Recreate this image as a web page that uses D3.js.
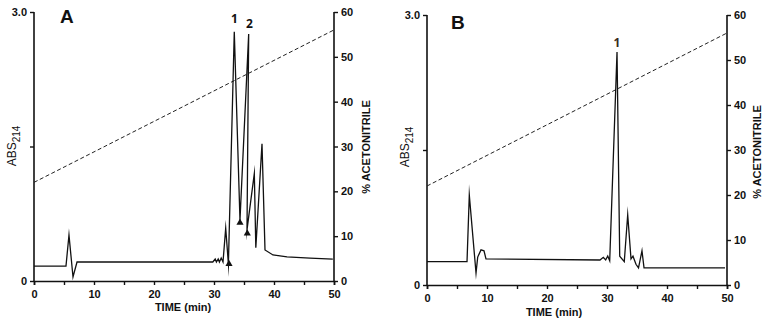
<!DOCTYPE html>
<html>
<head>
<meta charset="utf-8">
<script src="https://cdn.jsdelivr.net/npm/d3@7"></script>
<style>
  html, body { margin: 0; padding: 0; background: #fff; }
  svg { display: block; font-family: "Liberation Sans", Arial, sans-serif; }
</style>
</head>
<body>
<svg id="chart" width="764" height="323"></svg>
<script>
// ---------- DATA ----------
const timeTicks = [0, 10, 20, 30, 40, 50];
const timeMinorTicks = [0, 5, 10, 15, 20, 25, 30, 35, 40, 45, 50];
const absTicks = [0, 1.5, 3.0];
const absTickLabels = ["0", "", "3.0"];
const pctTicks = [0, 10, 20, 30, 40, 50, 60];

// Gradient (% acetonitrile) – same in both runs
const gradientTime = [0, 50];
const gradientPct = [22, 56];

// Panel A trace
const timeA = [0, 5.33, 5.83, 6.5, 7.17, 29.8, 30.2, 30.4, 30.7, 30.9, 31.2, 31.5, 31.95, 32.4,
  33.38, 34.33, 35.78, 35.5, 36.72, 36.97, 38.0, 38.5, 39.83, 42.17, 46, 49.8];
const absA = [0.167, 0.167, 0.513, 0.045, 0.212, 0.212, 0.245, 0.212, 0.245, 0.212, 0.256, 0.212, 0.59, 0.19,
  2.78, 0.68, 2.755, 0.57, 1.20, 0.37, 1.53, 0.346, 0.29, 0.268, 0.256, 0.245];
const markerTimeA = [32.5, 34.33, 35.55];
const markerAbsA = [0.19, 0.65, 0.53];
const peakLabelsA = ["1", "2"];
const peakLabelTimeA = [33.4, 35.9];
const peakLabelAbsA = [2.88, 2.82];

// Panel B trace
const timeB = [0, 6.67, 7.05, 8.17, 8.45, 9.0, 9.5, 9.83, 28.83, 29.38, 29.78, 30.12, 30.45,
  31.67, 32.12, 32.88, 33.45, 34.0, 34.33, 34.83, 35.25, 35.83, 36.17, 49.67];
const absB = [0.26, 0.26, 1.0, 0.133, 0.31, 0.39, 0.38, 0.29, 0.278, 0.308, 0.278, 0.322, 0.27,
  2.59, 0.32, 0.26, 0.78, 0.29, 0.32, 0.23, 0.19, 0.38, 0.19, 0.19];
const markerTimeB = [];
const markerAbsB = [];
const peakLabelsB = ["1"];
const peakLabelTimeB = [31.67];
const peakLabelAbsB = [2.64];

// ---------- DRAW ----------
const svg = d3.select("#chart");

function drawPanel(cfg) {
  const g = svg.append("g");
  const x = d3.scaleLinear().domain([0, 50]).range([cfg.left, cfg.right]);
  const yAbs = d3.scaleLinear().domain([0, 3]).range([cfg.bottom, cfg.top]);
  const yPct = d3.scaleLinear().domain([0, 60]).range([cfg.bottom, cfg.top]);

  // x axis
  const xAxis = g.append("g").attr("transform", `translate(0,${cfg.bottom})`)
    .call(d3.axisBottom(x).tickValues(timeMinorTicks).tickSize(4)
      .tickFormat(d => timeTicks.includes(d) ? d : ""));
  // left axis
  const yAxisL = g.append("g").attr("transform", `translate(${cfg.left},0)`)
    .call(d3.axisLeft(yAbs).tickValues(absTicks).tickSize(4)
      .tickFormat((d, i) => absTickLabels[i]));
  // right axis
  const yAxisR = g.append("g").attr("transform", `translate(${cfg.right},0)`)
    .call(d3.axisRight(yPct).tickValues(pctTicks).tickSize(4));

  [xAxis, yAxisL, yAxisR].forEach(a => {
    a.select(".domain").attr("stroke", "#111").attr("stroke-width", 1.6);
    a.selectAll(".tick line").attr("stroke", "#111").attr("stroke-width", 1.4);
    a.selectAll(".tick text").attr("fill", "#111")
      .style("font-size", "11px").style("font-weight", "bold")
      .style("font-family", "'Liberation Sans', Arial, sans-serif");
  });
  xAxis.selectAll(".tick text").attr("dy", "0.9em");
  yAxisL.select(".domain").attr("d", `M0,${cfg.top}H0V${cfg.bottom}`);
  yAxisR.select(".domain").attr("d", `M0,${cfg.top}V${cfg.bottom}`);
  yAxisL.selectAll(".tick text").attr("x", -7);
  yAxisR.selectAll(".tick text").attr("x", 7);

  // gradient
  const gline = d3.line().x((d, i) => x(gradientTime[i])).y((d, i) => yPct(gradientPct[i]));
  g.append("path").datum(gradientTime).attr("d", gline)
    .attr("fill", "none").attr("stroke", "#222").attr("stroke-width", 1)
    .attr("stroke-dasharray", "4,2.5");

  // trace
  const tline = d3.line().x((d, i) => x(cfg.time[i])).y((d, i) => yAbs(cfg.abs[i]));
  g.append("path").datum(cfg.time).attr("d", tline)
    .attr("fill", "none").attr("stroke", "#111").attr("stroke-width", 1.3)
    .attr("stroke-linejoin", "miter").attr("stroke-miterlimit", 20);

  // markers
  g.selectAll(".mk").data(cfg.markerTime).join("path")
    .attr("d", d3.symbol().type(d3.symbolTriangle).size(22))
    .attr("transform", (d, i) => `translate(${x(d)},${yAbs(cfg.markerAbs[i])})`)
    .attr("fill", "#111");

  // peak labels
  g.selectAll(".pl").data(cfg.peakLabels).join("text")
    .attr("x", (d, i) => x(cfg.peakLabelTime[i]))
    .attr("y", (d, i) => yAbs(cfg.peakLabelAbs[i]))
    .attr("text-anchor", "middle")
    .style("font-size", "12px").style("font-weight", "bold")
    .style("font-family", "'Open Sans', 'Liberation Sans', sans-serif")
    .attr("fill", cfg.peakColor)
    .text(d => d);

  // panel letter
  g.append("text").attr("x", cfg.letterX).attr("y", cfg.letterY)
    .style("font-size", "19px").style("font-weight", "bold").attr("fill", "#111")
    .text(cfg.letter);

  // x title
  g.append("text").attr("x", (cfg.left + cfg.right) / 2 - 1 + cfg.xTitleDx).attr("y", cfg.bottom + cfg.xTitleDy)
    .attr("text-anchor", "middle")
    .style("font-size", "11px").style("font-weight", "bold").attr("fill", "#111")
    .text("TIME (min)");

  // left title ABS214
  const lt = g.append("text")
    .attr("transform", `translate(${cfg.left - 18},${cfg.absTitleY}) rotate(-90)`)
    .attr("text-anchor", "middle")
    .style("font-size", "12px").attr("fill", "#111");
  lt.append("tspan").text("ABS");
  lt.append("tspan").attr("dy", 4).style("font-size", "10px").text("214");

  // right title
  g.append("text")
    .attr("transform", `translate(${cfg.right + cfg.pctTitleDx},${cfg.pctTitleY}) rotate(-90)`)
    .attr("text-anchor", "middle")
    .style("font-size", "11px").style("font-weight", "bold").attr("fill", "#111")
    .text("% ACETONITRILE");
}

drawPanel({
  left: 34, right: 334, top: 12, bottom: 281,
  time: timeA, abs: absA,
  markerTime: markerTimeA, markerAbs: markerAbsA,
  peakLabels: peakLabelsA, peakLabelTime: peakLabelTimeA, peakLabelAbs: peakLabelAbsA,
  peakColor: "#111",
  letter: "A", letterX: 60, letterY: 23,
  xTitleDx: -0, xTitleDy: 30, absTitleY: 146, pctTitleY: 147, pctTitleDx: 36
});

drawPanel({
  left: 427, right: 727, top: 15, bottom: 285,
  time: timeB, abs: absB,
  markerTime: markerTimeB, markerAbs: markerAbsB,
  peakLabels: peakLabelsB, peakLabelTime: peakLabelTimeB, peakLabelAbs: peakLabelAbsB,
  peakColor: "#3b2a1e",
  letter: "B", letterX: 451, letterY: 29,
  xTitleDx: -22, xTitleDy: 31, absTitleY: 147, pctTitleY: 152, pctTitleDx: 34
});
</script>
</body>
</html>
